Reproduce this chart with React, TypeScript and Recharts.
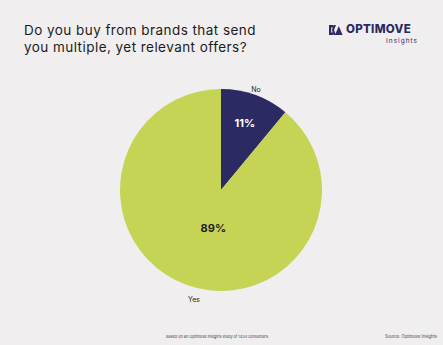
import React from 'react'
import { PieChart, Pie, Cell } from 'recharts'

const categories = ['No', 'Yes']
const shares = [11, 89]
const sliceColors = ['#2b2a62', '#c6d455']
const valueColors = ['#ffffff', '#1f1f1f']

const data = categories.map((name, i) => ({ name, value: shares[i] }))

const RAD = Math.PI / 180

// percentage inside the slice + category name just outside it
const SliceLabel = (props: any) => {
  const { cx, cy, midAngle, outerRadius, index, name, value } = props
  const inner = index === 0 ? 0.7 : 0.4
  const ix = cx + outerRadius * inner * Math.cos(-midAngle * RAD) + (index === 1 ? 6 : 0)
  const iy = cy + outerRadius * inner * Math.sin(-midAngle * RAD)
  const ox = cx + (outerRadius + 8) * Math.cos(-midAngle * RAD)
  const oy = cy + (outerRadius + 8) * Math.sin(-midAngle * RAD)
  return (
    <g>
      <text
        x={ix}
        y={iy}
        textAnchor="middle"
        dominantBaseline="central"
        fill={valueColors[index]}
        fontSize={11}
        fontWeight={700}
        fontFamily="Inter, sans-serif"
      >
        {value}%
      </text>
      <text
        x={ox + (index === 1 ? 10 : -2)}
        y={oy + (index === 1 ? 7 : 2)}
        textAnchor="middle"
        dominantBaseline="central"
        fill="#222"
        fontSize={7}
        fontFamily="Inter, sans-serif"
      >
        {name}
      </text>
    </g>
  )
}

const titleStyle: React.CSSProperties = {
  position: 'absolute',
  left: 24,
  fontSize: 13.5,
  lineHeight: '16px',
  letterSpacing: 0.45,
  color: '#1c1c1c',
  fontFamily: 'Inter, sans-serif',
  whiteSpace: 'nowrap',
}

const App: React.FC = () => {
  return (
    <div
      style={{
        position: 'absolute',
        top: 0,
        left: 0,
        width: 443,
        height: 345,
        background: '#f0eeef',
        fontFamily: 'Inter, sans-serif',
        overflow: 'hidden',
      }}
    >
      {/* Title */}
      <div style={{ ...titleStyle, top: 22 }}>Do you buy from brands that send</div>
      <div style={{ ...titleStyle, top: 38.5 }}>you multiple, yet relevant offers?</div>

      {/* Logo */}
      <svg style={{ position: 'absolute', left: 329, top: 25 }} width={14} height={10}>
        <path d="M0 0 H4 V2.5 H2.2 V7.5 H4 V10 H0 Z" fill="#2b2a62" />
        <path d="M4.5 0 H7 L5 5 L7 10 H4.5 L3 5 Z" fill="#2b2a62" />
        <path d="M6 10 L9.8 1 L13.6 10 Z" fill="#2b2a62" />
      </svg>
      <div
        style={{
          position: 'absolute',
          left: 346,
          top: 22,
          fontSize: 11.5,
          fontWeight: 800,
          color: '#2b2a62',
          letterSpacing: 0.3,
        }}
      >
        OPTIMOVE
      </div>
      <div
        style={{
          position: 'absolute',
          right: 25,
          top: 37,
          fontSize: 6.5,
          color: '#2b2a62',
          letterSpacing: 1,
        }}
      >
        Insights
      </div>

      <PieChart
        width={443}
        height={345}
        margin={{ top: 0, right: 0, bottom: 0, left: 0 }}
        style={{ position: 'absolute', top: 0, left: 0 }}
      >
        <Pie
          data={data}
          dataKey="value"
          nameKey="name"
          cx={221}
          cy={190}
          outerRadius={101}
          startAngle={90}
          endAngle={-270}
          stroke="none"
          label={SliceLabel}
          labelLine={false}
          isAnimationActive={false}
        >
          {data.map((d, i) => (
            <Cell key={d.name} fill={sliceColors[i]} />
          ))}
        </Pie>
      </PieChart>

      {/* Footer */}
      <div style={{ position: 'absolute', left: 166, top: 334, fontSize: 3.8, color: '#444', whiteSpace: 'nowrap' }}>
        Based on an Optimove Insights study of 1034 consumers.
      </div>
      <div style={{ position: 'absolute', right: 6, top: 334, fontSize: 4.2, color: '#444', whiteSpace: 'nowrap' }}>
        Source: Optimove Insights
      </div>
    </div>
  )
}

export default App
